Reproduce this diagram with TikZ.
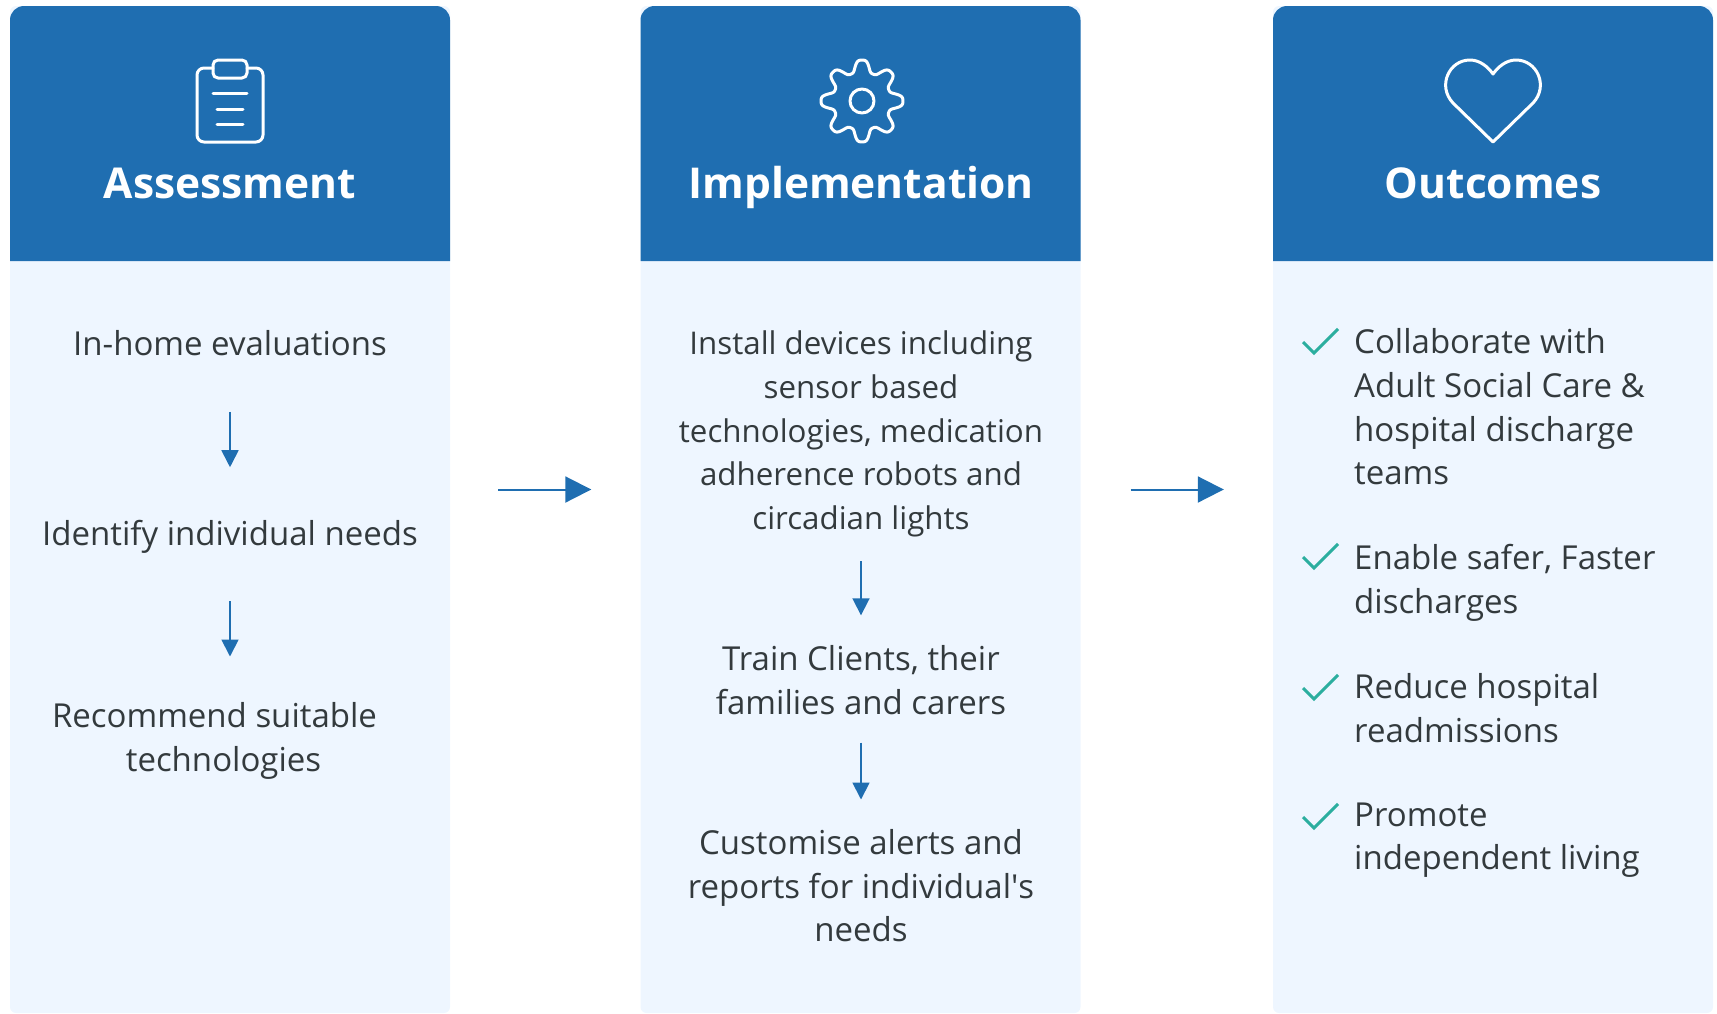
\documentclass[tikz,border=0pt]{standalone}
\usepackage{fontspec}
\setmainfont{Open Sans}
\newfontfamily\headfont{Open Sans}
\usetikzlibrary{arrows.meta}
\definecolor{headblue}{HTML}{1F6EB1}
\definecolor{bodyblue}{HTML}{EEF6FF}
\definecolor{inkgrey}{HTML}{333A3D}
\definecolor{tickgreen}{HTML}{2BAE9F}
\tikzset{
  bodybox/.style={fill=bodyblue, rounded corners=6, minimum width=440pt, minimum height=1007pt, inner sep=0pt},
  headtitle/.style={text=white, text height=30pt, text depth=8pt, font=\headfont\bfseries\fontsize{42.5}{44}\selectfont},
  itemtext/.style={text=inkgrey, align=center, inner sep=0pt, font=\fontsize{33}{43.6}\selectfont},
  listtext/.style={itemtext, align=left, anchor=west},
  iconline/.style={draw=white, line width=3pt, line cap=round, line join=round},
  smallarrow/.style={draw=headblue, line width=1.8pt, -{Triangle[length=17pt,width=17pt]}},
  bigarrow/.style={draw=headblue, line width=2pt, -{Triangle[length=26pt,width=26pt]}},
  tickline/.style={draw=tickgreen, line width=3pt}
}
\begin{document}
\begin{tikzpicture}[x=1pt,y=-1pt]
  \useasboundingbox (0,0) rectangle (1717,1013);

  % panels
  \node (body1) [bodybox] at (230,509.5) {};
  \node (body2) [bodybox] at (860.5,509.5) {};
  \node (body3) [bodybox] at (1493,509.5) {};

  \foreach \x in {10,640.5,1273}
    \fill[headblue] (\x,261) [rounded corners=14] -- (\x,6) -- (\x+440,6) [sharp corners] -- (\x+440,261) -- cycle;

  \node (title1) [headtitle] at (230,187) {Assessment};
  \node (title2) [headtitle] at (861,187) {Implementation};
  \node (title3) [headtitle] at (1493,187) {Outcomes};

  % clipboard
  \draw[iconline, rounded corners=7] (213,68) -- (197,68) -- (197,142) -- (263,142) -- (263,68) -- (247,68);
  \draw[iconline, rounded corners=5] (213,60) rectangle (247,78);
  \draw[iconline] (213,93) -- (247,93);
  \draw[iconline] (217,109) -- (243,109);
  \draw[iconline] (217,124) -- (243,124);

  % gear
  \draw[iconline, smooth, samples=289, domain=0:360] plot ({862+(35+6.6*(cos(8*\x)-0.1*cos(24*\x)))*cos(\x)},{101+(35+6.6*(cos(8*\x)-0.1*cos(24*\x)))*sin(\x)}) -- cycle;
  \draw[iconline] (862,101) circle (12);

  % heart
  \draw[iconline] (1493,142) -- (1453,103) .. controls (1437,86) and (1449,60) .. (1470,60)
    .. controls (1480,60) and (1488,67) .. (1493,74) .. controls (1498,67) and (1506,60) .. (1516,60)
    .. controls (1537,60) and (1549,86) .. (1533,103) -- cycle;

  % first column
  \node (evals) [itemtext] at (230,343) {In-home evaluations};
  \node (needs) [itemtext] at (230,537) {Identify individual needs};
  \node (recommend) [itemtext] at (223.5,741) {Recommend suitable\rule{18pt}{0pt}\\technologies};
  \draw[smallarrow, shorten <=56pt, shorten >=53pt] (evals) -- (needs);
  \draw[smallarrow, shorten <=64pt, shorten >=46pt] (needs.center) -- (needs.center |- recommend.north);

  % second column
  \node (install) [itemtext, font=\fontsize{31.3}{43.6}\selectfont] at (861,434) {Install devices including\\sensor based\\technologies, medication\\adherence robots and\\circadian lights};
  \node (train) [itemtext] at (861,680) {Train Clients, their\\families and carers};
  \node (alerts) [itemtext] at (861,886) {Customise alerts and\\reports for individual\textquotesingle s\\needs};
  \draw[smallarrow, shorten <=24pt, shorten >=30pt] (install) -- (train);
  \draw[smallarrow, shorten <=28pt, shorten >=30pt] (train) -- (alerts);

  % third column
  \node (collab) [listtext] at (1354,407) {Collaborate with\\Adult Social Care \&\\hospital discharge\\teams};
  \node (safer) [listtext] at (1354,583) {Enable safer, Faster\\discharges};
  \node (reduce) [listtext] at (1354,708) {Reduce hospital\\readmissions};
  \node (promote) [listtext] at (1354,840) {Promote\\independent living};
  \foreach \y in {342,557,688,817}
    \draw[tickline] (1303,\y) -- (1314,\y+11) -- (1338,\y-13);

  % arrows between panels
  \draw[bigarrow, shorten <=48pt, shorten >=49pt] ([yshift=20pt]body1.east) -- ([yshift=20pt]body2.west);
  \draw[bigarrow, shorten <=50pt, shorten >=49pt] ([yshift=20pt]body2.east) -- ([yshift=20pt]body3.west);
\end{tikzpicture}
\end{document}
